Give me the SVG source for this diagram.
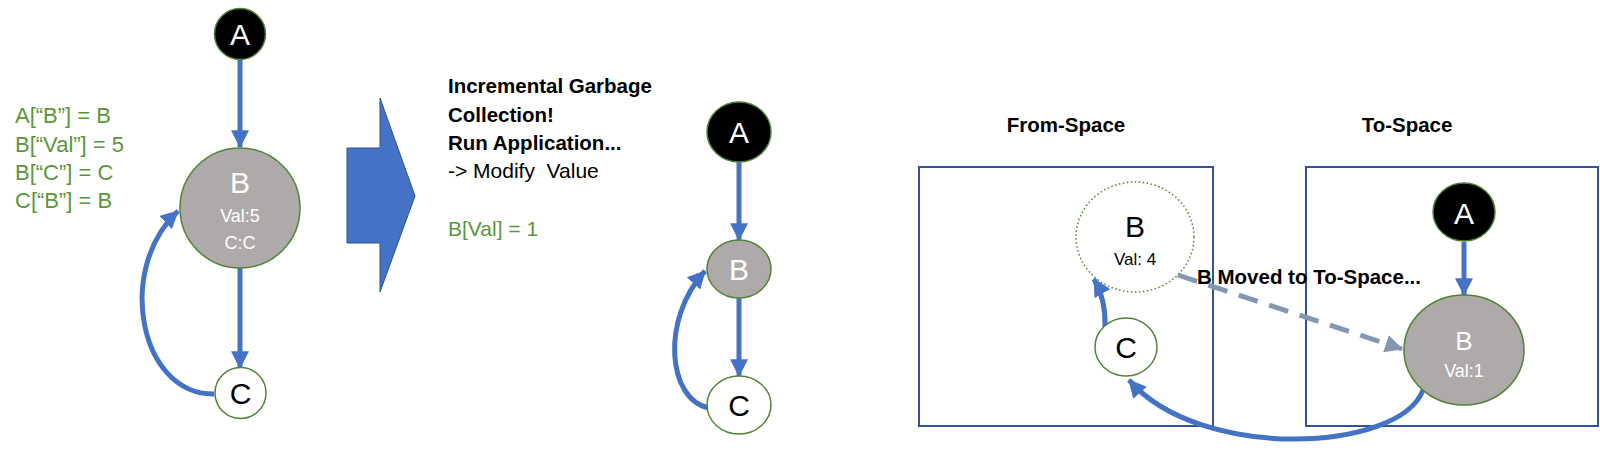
<svg xmlns="http://www.w3.org/2000/svg" width="1600" height="450" viewBox="0 0 1600 450">
<style>
  text { font-family: "Liberation Sans", Arial, sans-serif; }
  .node-dark { fill: #000000; stroke: #538135; stroke-width: 1.5; }
  .node-grey { fill: #AEAAAA; stroke: #538135; stroke-width: 1.5; }
  .node-white { fill: #FFFFFF; stroke: #538135; stroke-width: 1.5; }
  .node-dotted { fill: #FFFFFF; stroke: #538135; stroke-width: 1.5; stroke-dasharray: 1.5 2.5; }
  .lbl { font-size: 30px; text-anchor: middle; }
  .w { fill: #FFFFFF; }
  .k { fill: #000000; }
  .small { font-size: 18px; text-anchor: middle; }
  .edge { fill: none; stroke: #4472C4; stroke-width: 5; }
  .dash { fill: none; stroke: #8497B0; stroke-width: 5; stroke-dasharray: 20 12; }
  .code { font-size: 22px; fill: #5B963A; }
  .bold { font-size: 20.5px; font-weight: bold; fill: #000000; }
  .plain { font-size: 21px; fill: #000000; }
  .space { fill: none; stroke: #2F5597; stroke-width: 2; }
</style>
<defs>
  <marker id="ah" markerUnits="userSpaceOnUse" markerWidth="18" markerHeight="18" viewBox="0 0 16 16" refX="15" refY="8" orient="auto">
    <path d="M0,0 L16,8 L0,16 Z" fill="#4472C4"/>
  </marker>
  <marker id="ahg" markerUnits="userSpaceOnUse" markerWidth="18" markerHeight="18" viewBox="0 0 16 16" refX="15" refY="8" orient="auto">
    <path d="M0,0 L16,8 L0,16 Z" fill="#8497B0"/>
  </marker>
</defs>

<!-- Left code text -->
<g id="code-left">
  <text class="code" x="15" y="123">A[“B”] = B</text>
  <text class="code" x="15" y="152">B[“Val”] = 5</text>
  <text class="code" x="15" y="180">B[“C”] = C</text>
  <text class="code" x="15" y="208">C[“B”] = B</text>
</g>

<!-- Block arrow -->
<g id="block-arrow">
  <polygon points="347,148 380,148 380,98 415,196 380,292 380,243 347,243" fill="#4472C4" stroke="#2F528F" stroke-width="1"/>
</g>

<!-- Middle text -->
<g id="notes-middle">
  <text class="bold" x="448" y="93">Incremental Garbage</text>
  <text class="bold" x="448" y="122">Collection!</text>
  <text class="bold" x="448" y="150">Run Application...</text>
  <text class="plain" x="448" y="178" xml:space="preserve">-&gt; Modify  Value</text>
  <text class="code" x="448" y="236" style="font-size:21px">B[Val] = 1</text>
</g>

<!-- Right labels and spaces -->
<g id="from-space">
  <text class="bold" x="1066" y="132" text-anchor="middle">From-Space</text>
  <rect class="space" x="919" y="167" width="294" height="259"/>
</g>
<g id="to-space">
  <text class="bold" x="1407" y="132" text-anchor="middle">To-Space</text>
  <rect class="space" x="1306" y="167" width="292" height="259"/>
</g>

<!-- Connectors -->
<g id="connectors">
  <!-- left -->
  <line class="edge" x1="240" y1="60" x2="240" y2="147" marker-end="url(#ah)"/>
  <line class="edge" x1="240" y1="268" x2="240" y2="368" marker-end="url(#ah)"/>
  <path class="edge" d="M214,394 C140,395 115,270 178,211" marker-end="url(#ah)"/>
  <!-- middle -->
  <line class="edge" x1="739" y1="162" x2="739" y2="240" marker-end="url(#ah)"/>
  <line class="edge" x1="739" y1="298" x2="739" y2="376" marker-end="url(#ah)"/>
  <path class="edge" d="M709,408 C668,400 660,320 705,271" marker-end="url(#ah)"/>
  <!-- right -->
  <line class="edge" x1="1464" y1="242" x2="1464" y2="295" stroke-width="4" marker-end="url(#ah)"/>
  <path class="edge" d="M1105,327 Q1106,300 1094,279" marker-end="url(#ah)"/>
  <path class="dash" d="M1178,275 L1402,349" marker-end="url(#ahg)"/>
  <path class="edge" d="M1423,390 C1400,452 1200,462 1129,380" marker-end="url(#ah)"/>
</g>

<!-- Left graph nodes -->
<g id="left-A">
  <circle class="node-dark" cx="240" cy="34" r="25.5"/>
  <text class="lbl w" x="240" y="45">A</text>
</g>
<g id="left-B">
  <circle class="node-grey" cx="240" cy="208" r="60"/>
  <text class="lbl w" x="240" y="193">B</text>
  <text class="small w" x="240" y="222">Val:5</text>
  <text class="small w" x="240" y="249">C:C</text>
</g>
<g id="left-C">
  <circle class="node-white" cx="240.5" cy="393" r="25.5"/>
  <text class="lbl k" x="240.5" y="404">C</text>
</g>

<!-- Middle graph nodes -->
<g id="mid-A">
  <ellipse class="node-dark" cx="739" cy="132" rx="32" ry="30"/>
  <text class="lbl w" x="739" y="143">A</text>
</g>
<g id="mid-B">
  <ellipse class="node-grey" cx="739" cy="269" rx="32" ry="29"/>
  <text class="lbl w" x="739" y="280">B</text>
</g>
<g id="mid-C">
  <ellipse class="node-white" cx="739" cy="405" rx="32" ry="29"/>
  <text class="lbl k" x="739" y="416">C</text>
</g>

<!-- Right graph nodes -->
<g id="from-B">
  <ellipse class="node-dotted" cx="1135" cy="237" rx="59" ry="55"/>
  <text class="lbl k" x="1135" y="237">B</text>
  <text class="small k" x="1135" y="265" style="font-size:17px">Val: 4</text>
</g>
<g id="from-C">
  <ellipse class="node-white" cx="1126" cy="347" rx="31" ry="29"/>
  <text class="lbl k" x="1126" y="358">C</text>
</g>
<g id="to-A">
  <ellipse class="node-dark" cx="1464" cy="212" rx="31" ry="29"/>
  <text class="lbl w" x="1464" y="224">A</text>
</g>
<g id="to-B">
  <ellipse class="node-grey" cx="1464" cy="350" rx="60" ry="55"/>
  <text class="lbl w" x="1464" y="350" style="font-size:26px">B</text>
  <text class="small w" x="1464" y="377">Val:1</text>
</g>

<!-- Moved label -->
<g id="moved-label">
  <text class="bold" x="1197" y="284">B Moved to To-Space...</text>
</g>
</svg>
